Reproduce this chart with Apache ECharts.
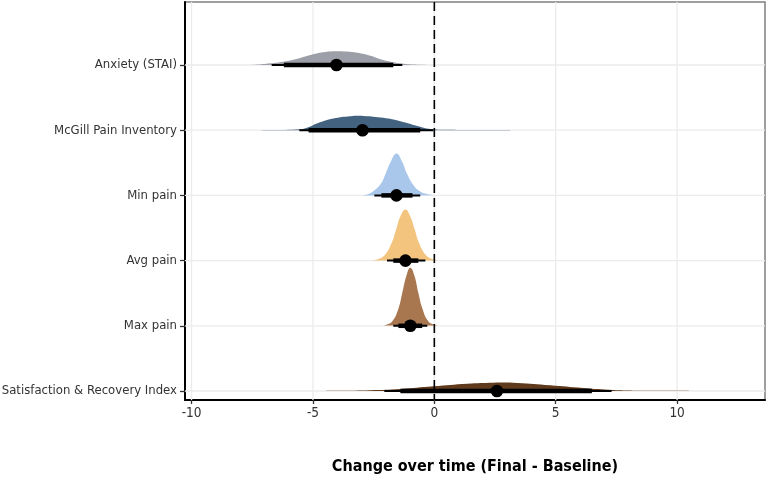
<!DOCTYPE html>
<html><head><meta charset="utf-8">
<script src="https://cdn.jsdelivr.net/npm/echarts@6/dist/echarts.min.js"></script>
<style>html,body{margin:0;padding:0;background:#fff}#c{width:767px;height:480px}</style>
</head><body><div id="c"></div>
<script>
// Categories, bottom (y=1) to top (y=6)
const categories = ['Satisfaction & Recovery Index', 'Max pain', 'Avg pain', 'Min pain', 'McGill Pain Inventory', 'Anxiety (STAI)'];
const xTicks = [-10, -5, 0, 5, 10];
const slabColors = ['#603A1C', '#A8774F', '#F3C47E', '#A9C7EB', '#436280', '#9C9EA8'];

// Point estimate and interval ends
const pointEstimate = [2.58, -0.99, -1.19, -1.56, -2.96, -4.03];
const thinLow  = [-2.06, -1.69, -1.95, -2.47, -5.56, -6.70];
const thinHigh = [7.30, -0.29, -0.37, -0.58, -0.04, -1.32];
const thickLow  = [-1.40, -1.48, -1.69, -2.18, -5.18, -6.20];
const thickHigh = [6.49, -0.50, -0.66, -0.90, -0.58, -1.69];

// Slab (density) outlines: x values and heights (fraction of row spacing)
const satX = [-5.10, -3.87, -2.63, -1.40, -0.04, 1.36, 2.43, 3.42, 4.77, 6.13, 7.37, 8.19, 9.30, 10.53];
const satH = [0, 0.003, 0.012, 0.031, 0.072, 0.112, 0.127, 0.123, 0.087, 0.046, 0.015, 0.005, 0.002, 0];
const maxX = [-2.22, -1.98, -1.73, -1.48, -1.32, -1.15, -0.99, -0.82, -0.66, -0.49, -0.25, 0.00, 0.25];
const maxH = [0.005, 0.018, 0.069, 0.261, 0.506, 0.767, 0.890, 0.767, 0.506, 0.261, 0.069, 0.018, 0.005];
const avgX = [-2.63, -2.35, -2.06, -1.77, -1.56, -1.40, -1.19, -0.99, -0.82, -0.62, -0.33, -0.04, 0.25];
const avgH = [0.003, 0.018, 0.077, 0.261, 0.491, 0.675, 0.782, 0.675, 0.491, 0.261, 0.077, 0.018, 0.003];
const minX = [-3.05, -2.77, -2.50, -2.22, -2.02, -1.81, -1.56, -1.33, -1.13, -0.85, -0.58, -0.30, -0.04];
const minH = [0, 0.015, 0.069, 0.169, 0.322, 0.506, 0.644, 0.521, 0.337, 0.153, 0.061, 0.020, 0.003];
const mcgX = [-7.57, -6.75, -5.51, -5.19, -4.81, -4.16, -3.46, -2.92, -2.10, -1.40, -0.70, -0.16, 0.66, 2.02, 3.13];
const mcgH = [0, 0.003, 0.015, 0.046, 0.107, 0.179, 0.215, 0.219, 0.189, 0.138, 0.066, 0.020, 0.005, 0.001, 0];
const anxX = [-8.40, -7.37, -6.75, -6.21, -5.64, -5.10, -4.57, -4.07, -3.66, -3.17, -2.63, -2.10, -1.69, -1.28, -0.58, 0.25];
const anxH = [0, 0.005, 0.026, 0.051, 0.097, 0.153, 0.195, 0.210, 0.207, 0.189, 0.143, 0.077, 0.041, 0.020, 0.005, 0];

const slabX = [satX, maxX, avgX, minX, mcgX, anxX];
const slabH = [satH, maxH, avgH, minH, mcgH, anxH];

const FONT = "'Liberation Sans Narrow', 'DejaVu Sans Condensed', Roboto, sans-serif";
const chart = echarts.init(document.getElementById('c'), null, {renderer: 'canvas'});

const rowIdx = categories.map((c, i) => [i]);

function gridRender(params, api) {
  const cs = params.coordSys;
  const kids = [];
  xTicks.forEach(v => {
    const p = api.coord([v, 1]);
    kids.push({type: 'line', shape: {x1: p[0], y1: cs.y, x2: p[0], y2: cs.y + cs.height},
      style: {stroke: '#ebebeb', lineWidth: 1.3}});
  });
  categories.forEach((c, i) => {
    const p = api.coord([0, i + 1]);
    kids.push({type: 'line', shape: {x1: cs.x, y1: p[1], x2: cs.x + cs.width, y2: p[1]},
      style: {stroke: '#ebebeb', lineWidth: 1.3}});
  });
  return {type: 'group', children: kids};
}

function slabRender(params, api) {
  const i = api.value(0);
  const pts = slabX[i].map((x, j) => api.coord([x, i + 1 + slabH[i][j]]));
  return {type: 'polyline', shape: {points: pts, smooth: 0.45},
    style: {fill: slabColors[i], stroke: null}};
}

function zeroRender(params, api) {
  const cs = params.coordSys;
  const p = api.coord([0, 1]);
  return {type: 'line', shape: {x1: p[0], y1: cs.y, x2: p[0], y2: cs.y + cs.height},
    style: {stroke: '#000', lineWidth: 1.6, lineDash: [9, 5]}};
}

function intervalRender(params, api) {
  const i = api.value(0);
  const y = i + 1;
  const a = api.coord([thinLow[i], y]), b = api.coord([thinHigh[i], y]);
  const c = api.coord([thickLow[i], y]), d = api.coord([thickHigh[i], y]);
  const pt = api.coord([pointEstimate[i], y]);
  return {type: 'group', children: [
    {type: 'line', shape: {x1: a[0], y1: a[1], x2: b[0], y2: b[1]}, style: {stroke: '#000', lineWidth: 2}},
    {type: 'line', shape: {x1: c[0], y1: c[1], x2: d[0], y2: d[1]}, style: {stroke: '#000', lineWidth: 4.5}},
    {type: 'circle', shape: {cx: pt[0], cy: pt[1], r: 6.3}, style: {fill: '#000'}}
  ]};
}

chart.setOption({
  animation: false,
  backgroundColor: '#fff',
  grid: {left: 185, right: 2, top: 2, bottom: 80, show: true, borderColor: '#808080', borderWidth: 1.5,
    backgroundColor: 'transparent', containLabel: false, outerBoundsMode: 'none'},
  xAxis: {
    type: 'value', min: -10.27, max: 13.62,
    axisLine: {show: true, onZero: false, lineStyle: {color: '#000', width: 2}},
    axisTick: {show: true, customValues: xTicks, length: 4, lineStyle: {color: '#333', width: 1.3}},
    axisLabel: {customValues: xTicks, color: '#333', fontSize: 13.5, fontFamily: FONT, margin: 6},
    splitLine: {show: false},
    name: 'Change over time (Final - Baseline)', nameLocation: 'middle', nameGap: 59,
    nameTextStyle: {color: '#000', fontSize: 16, fontWeight: 'bold', fontFamily: FONT}
  },
  yAxis: {
    type: 'value', min: 0.862, max: 6.966,
    axisLine: {show: true, onZero: false, lineStyle: {color: '#000', width: 2}},
    axisTick: {show: true, customValues: [1, 2, 3, 4, 5, 6], length: 5, lineStyle: {color: '#333', width: 1.3}},
    axisLabel: {customValues: [1, 2, 3, 4, 5, 6], color: '#333', fontSize: 13, fontFamily: FONT, margin: 8,
      formatter: v => categories[Math.round(v) - 1] || ''},
    splitLine: {show: false}
  },
  series: [
    {type: 'custom', renderItem: gridRender, data: [[0]], z: 1, silent: true},
    {type: 'custom', renderItem: slabRender, data: rowIdx, z: 2, silent: true},
    {type: 'custom', renderItem: zeroRender, data: [[0]], z: 3, silent: true},
    {type: 'custom', renderItem: intervalRender, data: rowIdx, z: 4, silent: true}
  ]
});
</script></body></html>
